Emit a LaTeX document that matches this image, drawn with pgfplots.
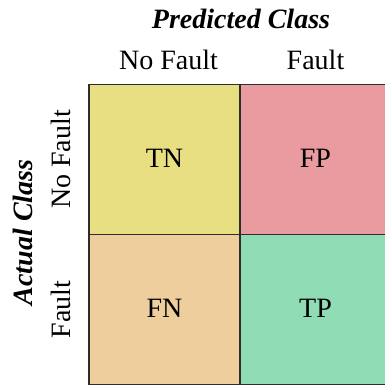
\documentclass[border=0pt]{standalone}
\usepackage{pgfplots}
\pgfplotsset{compat=1.18}
\usepackage{fontspec}
\setmainfont{Liberation Serif}
\definecolor{cTN}{RGB}{232,222,130}
\definecolor{cFP}{RGB}{234,155,160}
\definecolor{cFN}{RGB}{237,206,156}
\definecolor{cTP}{RGB}{143,220,181}
\definecolor{cB}{RGB}{45,45,45}
\begin{document}
\fontsize{28}{33}\selectfont
\begin{tikzpicture}
\begin{axis}[
  at={(0pt,0pt)}, anchor=south west,
  scale only axis, width=302pt, height=300pt,
  xmin=0, xmax=2, ymin=0, ymax=2,
  axis line style={draw=cB, line width=1.6pt},
  xtick={0.527,1.5}, xticklabels={No Fault,Fault},
  ytick={0.5,1.5}, yticklabels={Fault,No Fault},
  xticklabel pos=upper,
  major tick length=0pt,
  tick style={draw=none},
  xticklabel style={anchor=base, yshift=15pt, font=\fontsize{28}{33}\selectfont},
  yticklabel style={xshift=-18.3pt, rotate=90, anchor=base, font=\fontsize{28}{33}\selectfont},
  clip=false,
]
\addplot[fill=cTN, draw=cB, line width=1.6pt] coordinates {(0,1) (1,1) (1,2) (0,2)} -- cycle;
\addplot[fill=cFP, draw=cB, line width=1.6pt] coordinates {(1,1) (2,1) (2,2) (1,2)} -- cycle;
\addplot[fill=cFN, draw=cB, line width=1.6pt] coordinates {(0,0) (1,0) (1,1) (0,1)} -- cycle;
\addplot[fill=cTP, draw=cB, line width=1.6pt] coordinates {(1,0) (2,0) (2,1) (1,1)} -- cycle;
\node[anchor=base] at (axis cs:0.5,1.5) [yshift=-8pt] {TN};
\node[anchor=base] at (axis cs:1.5,1.5) [yshift=-8pt] {FP};
\node[anchor=base] at (axis cs:0.5,0.5) [yshift=-8pt] {FN};
\node[anchor=base] at (axis cs:1.5,0.5) [yshift=-8pt] {TP};
\end{axis}
\node[anchor=base, font=\fontsize{28}{33}\selectfont\bfseries\itshape] at (152pt,356.2pt) {Predicted Class};
\node[rotate=90, anchor=base, font=\fontsize{28}{33}\selectfont\bfseries\itshape] at (-56.7pt,152pt) {Actual Class};
\pgfresetboundingbox
\useasboundingbox (-89pt,-1.5pt) rectangle (296pt,384.5pt);
\end{tikzpicture}
\end{document}
